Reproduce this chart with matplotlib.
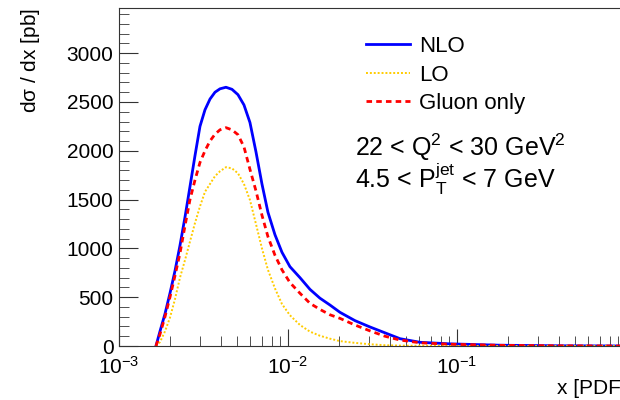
import numpy as np
import matplotlib.pyplot as plt
from matplotlib.ticker import LogLocator

plt.rcParams['font.family'] = ['Liberation Sans', 'DejaVu Sans']
plt.rcParams['mathtext.fontset'] = 'custom'
plt.rcParams['mathtext.rm'] = 'Liberation Sans'
plt.rcParams['mathtext.it'] = 'Liberation Sans'

# x bin centres and dsigma/dx [pb] per curve
x = [0.001655, 0.001748, 0.001872, 0.002003, 0.002145, 0.002296, 0.002458,
     0.002631, 0.002817, 0.003015, 0.003228, 0.003456, 0.003699, 0.003960,
     0.004296, 0.004662, 0.005059, 0.005490, 0.005957, 0.006465, 0.007016,
     0.007613, 0.008376, 0.009216, 0.01027, 0.01178, 0.01350, 0.01546,
     0.01772, 0.02031, 0.02491, 0.03056, 0.03750, 0.04600, 0.06041, 0.09091,
     0.1796, 0.4069, 1.0]
nlo = [0, 150, 330, 540, 770, 1030, 1320, 1633, 1950, 2250, 2420, 2530,
       2600, 2635, 2651, 2630, 2575, 2470, 2290, 1990, 1660, 1370, 1140,
       960, 813, 700, 580, 490, 420, 345, 260, 195, 135, 75, 38, 22, 8, 2, 0]
lo = [0, 40, 150, 290, 480, 700, 880, 1070, 1260, 1430, 1580, 1660, 1740,
      1790, 1832, 1820, 1770, 1660, 1496, 1250, 1000, 780, 590, 430, 315,
      215, 147, 105, 75, 50, 32, 18, 8, 4, 2, 0, 0, 0, 0]
gluon = [0, 120, 300, 500, 720, 950, 1230, 1500, 1700, 1880, 2000, 2100,
         2170, 2215, 2237, 2215, 2165, 2040, 1810, 1590, 1340, 1120, 930,
         780, 650, 540, 437, 375, 320, 283, 215, 155, 100, 61, 33, 18, 7, 2, 0]

fig = plt.figure(figsize=(6.2, 4.0), dpi=100)
ax = fig.add_axes([0.1919, 0.135, 0.8177, 0.845])

ax.plot(x, nlo, color='#0000ff', lw=2, label='NLO')
ax.plot(x, lo, color='#ffcc00', lw=1.4, ls=(0, (1, 1)), label='LO')
ax.plot(x, gluon, color='#ff0000', lw=2, ls=(0, (2, 1.5)), label='Gluon only')

ax.set_xscale('log')
ax.set_xlim(1e-3, 1)
ax.set_xticks([1e-3, 1e-2, 1e-1])
ax.xaxis.set_minor_locator(LogLocator(base=10, subs=np.arange(2, 10)))
ax.set_ylim(0, 3463)
ax.set_yticks(np.arange(0, 3001, 500))
ax.set_yticks(np.arange(0, 3401, 100), minor=True)

ax.tick_params(which='both', direction='in', top=False, right=False,
               labelsize=15, colors='#333333', labelcolor='black')
ax.tick_params(axis='y', which='major', length=14, pad=4)
ax.tick_params(axis='y', which='minor', length=7)
ax.tick_params(axis='x', which='major', length=12, pad=7)
ax.tick_params(axis='x', which='minor', length=7)
for s in ax.spines.values():
    s.set_color('#333333')

ax.set_ylabel(r'd$\sigma$ / dx [pb]', fontsize=15)
ax.yaxis.set_label_coords(-0.152, 1.0)
ax.yaxis.label.set_ha('right')
fig.text(557 / 620, 1 - 388 / 400, 'x [PDF]', fontsize=15, va='center', ha='left')

ax.legend(loc='upper left', bbox_to_anchor=(366 / 620, 1 - 36 / 400),
          bbox_transform=fig.transFigure, frameon=False, fontsize=16,
          handlelength=2.0, handletextpad=0.4, labelspacing=0.34,
          borderpad=0, borderaxespad=0)

fig.text(355 / 620, 1 - 147 / 400, r'22 < Q$^{2}$ < 30 GeV$^{2}$',
         fontsize=18, va='center', ha='left')
fig.text(355 / 620, 1 - 179 / 400, r'4.5 < P$_{\rm T}^{\rm jet}$ < 7 GeV',
         fontsize=18, va='center', ha='left')

fig.savefig('out.png', dpi=100)
